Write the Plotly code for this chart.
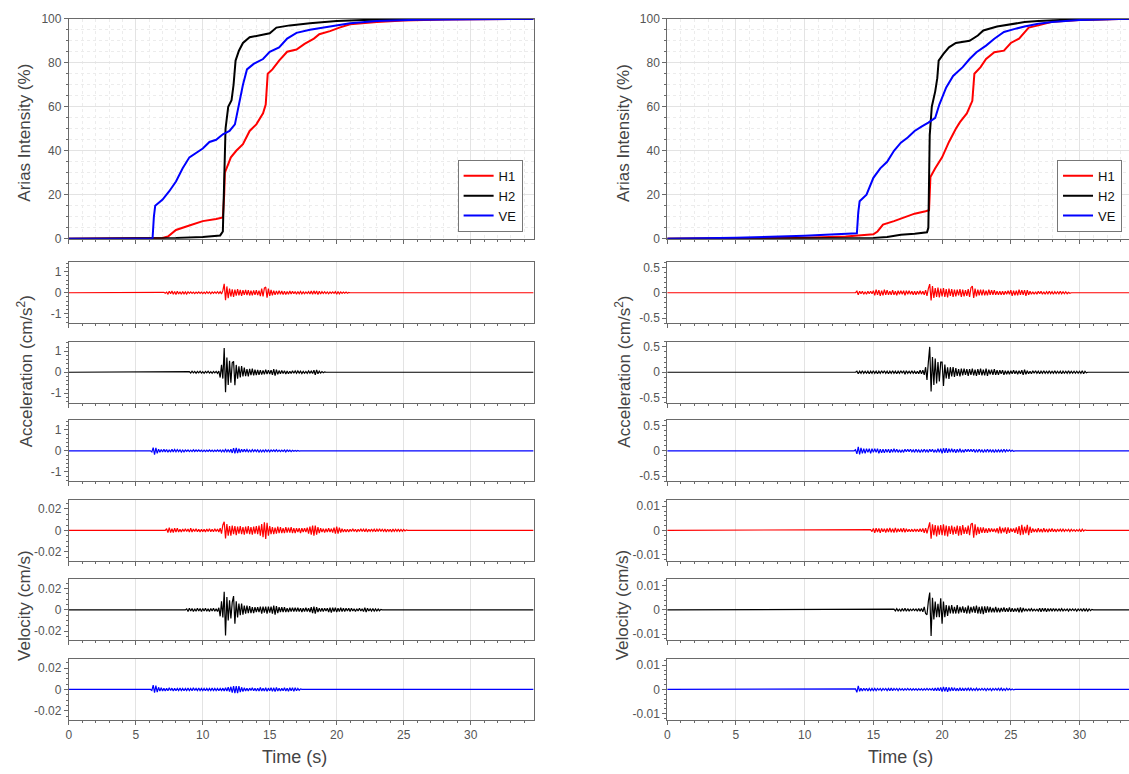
import plotly.graph_objects as go

W, H = 1129, 774

# ---------------- Arias intensity (%) ----------------
ai_l_h1_t = [0, 6.5, 7.0, 7.4, 8.0, 9.0, 10.0, 11.0, 11.5, 11.6, 11.65, 12.1, 12.5, 13.0, 13.5, 14.0, 14.5, 14.7, 14.85,
             15.2, 15.7, 16.3, 17.0, 17.6, 18.3, 18.7, 19.5, 20.2, 21, 23, 25, 28, 34.7]
ai_l_h1 = [0, 0, 0.3, 1, 4, 6, 8, 9, 9.7, 20, 30, 37, 40, 43, 49, 52, 57, 61, 75,
           77, 81, 85, 86, 88.6, 91, 93, 94.4, 96, 97.5, 98.5, 99.2, 99.7, 100]
ai_l_h2_t = [0, 6, 8, 10, 11.3, 11.5, 11.6, 11.7, 11.9, 12.15, 12.3, 12.45, 12.7, 13.0, 13.5, 14.5, 15.0, 15.5, 16.5,
             18, 20, 22, 25, 34.7]
ai_l_h2 = [0, 0, 0.3, 0.8, 1.5, 3.3, 23, 50, 60, 63, 70, 81, 85.5, 89, 91.6, 93, 93.4, 96, 97,
           98, 99, 99.5, 99.8, 100]
ai_l_ve_t = [0, 6.25, 6.35, 6.45, 7.0, 7.5, 8.0, 8.5, 9.0, 9.5, 10.0, 10.5, 11.0, 11.5, 12.0, 12.4, 12.7, 13.0, 13.3,
             13.8, 14.5, 15.0, 15.7, 16.3, 17.0, 18.0, 19.5, 21, 23, 26, 34.7]
ai_l_ve = [0, 0, 10, 15, 17.8, 21.6, 26, 32, 37, 39, 41, 44, 45, 47.5, 49, 52, 61, 70, 77,
           79.5, 81.7, 85, 87, 91, 93.6, 95, 96.5, 98, 99, 99.6, 100]

ai_r_h1_t = [0, 10, 13, 14.5, 15.0, 15.3, 15.7, 16.5, 17.3, 18.0, 18.8, 19.05, 19.15, 19.5, 20.0, 20.5, 21.0, 21.3,
             21.8, 22.2, 22.35, 22.8, 23.2, 23.8, 24.5, 25.0, 25.6, 26.0, 26.3, 27, 28, 30, 33.9]
ai_r_h1 = [0, 0.5, 1, 1.5, 2, 3.3, 6.4, 8, 10, 11.4, 12.5, 13, 28, 32, 37, 44, 50, 53,
           57, 62.7, 75, 78, 81.7, 84.8, 85.5, 89, 91, 94, 96, 97, 98.6, 99.5, 100]
ai_r_h2_t = [0, 15, 16, 17, 18, 18.9, 19.0, 19.1, 19.25, 19.5, 19.65, 19.75, 20.1, 20.5, 21.0, 22.0, 22.6, 23.0,
             24.0, 25.0, 26.0, 27, 29, 33.9]
ai_r_h2 = [0, 0.3, 0.8, 1.8, 2.3, 2.9, 5, 47, 60, 67, 73, 81, 84, 87, 89, 90, 92.4, 94.7,
           96.5, 97.4, 98.5, 99, 99.6, 100]
ai_r_ve_t = [0, 5, 10, 13, 13.8, 13.9, 14.0, 14.5, 15.0, 15.5, 16.0, 16.5, 17.0, 17.5, 18.0, 18.5, 19.0, 19.5,
             19.8, 20.3, 20.8, 21.5, 22.0, 22.5, 23.2, 23.8, 24.5, 25.3, 26.0, 27.0, 28, 30, 33.9]
ai_r_ve = [0, 0.4, 1.3, 2, 2.5, 12, 17, 20, 27.7, 32, 35, 40, 43.7, 46, 49, 51, 52.8, 55,
           61, 68.8, 74, 78, 81.7, 84.8, 87.8, 90.9, 94, 95.4, 96.5, 97.7, 98.5, 99.5, 100]

# ---------------- Records (sampled every SAMPLE_DT s from start time) ----------------
SAMPLE_DT = 0.1

# Left event, acceleration (cm/s^2)
acc_l_h1_t0 = 7.0
acc_l_h1 = [0, .02, -.02, .03, -.06, .07, -.05, .08, -.07, .06,
            -.08, .07, -.06, .05, -.07, .06, -.05, .04, -.06, .05,
            -.03, .04, -.03, .03, -.04, .03, -.03, .04, -.03, .03,
            -.04, .03, -.04, .05, -.03, .04, -.05, .04, -.03, .04,
            -.03, .05, -.04, .05, -.06, .1, .42, -.35, .3, -.26,
            .2, -.18, .16, -.2, .15, -.14, .17, -.12, .13, -.15,
            .12, -.1, .13, -.11, .12, -.13, .1, -.12, .11, -.1,
            .12, -.11, .1, -.16, .2, -.18, .22, .27, -.23, .2,
            -.15, .13, -.12, .1, -.1, .09, -.08, .1, -.07, .08,
            -.09, .07, -.08, .06, -.07, .08, -.06, .07, -.05, .06,
            -.07, .06, -.05, .06, -.05, .04, -.05, .04, -.04, .05,
            -.06, .08, -.07, .09, -.06, .08, -.09, .07, -.06, .05,
            -.04, .05, -.04, .04, -.05, .04, -.03, .04, -.03, .05,
            -.07, .06, -.05, .04, -.03, .03, -.02, .03, -.02, .02, 0]
acc_l_h2_t0 = 9.0
acc_l_h2 = [.03, -.04, .05, -.03, .04, -.05, .04, -.03, .05, -.04,
            .03, -.05, .04, -.03, .05, -.04, .03, -.05, .04, -.03,
            .04, -.05, .06, -.25, .35, -.3, 1.15, -.95, .7, -.6,
            .55, -.5, .45, .52, -.62, .35, -.3, .28, -.25, .3,
            -.2, .22, -.18, .15, -.2, .16, -.14, .17, -.15, .12,
            -.13, .11, -.12, .1, -.11, .09, -.1, .12, -.09, .1,
            -.08, .1, -.12, .15, -.16, .13, -.1, .08, -.07, .08,
            -.06, .07, -.08, .06, -.07, .05, -.06, .07, -.05, .06,
            -.05, .06, -.04, .05, -.06, .04, -.05, .04, -.05, .06,
            -.04, .05, -.06, .1, -.12, .11, -.07, .05, -.04, .03,
            -.02, .02, 0]
acc_l_ve_t0 = 6.2
acc_l_ve = [-.05, .15, -.18, .14, -.12, .08, -.07, .06,
            -.06, .07, -.05, .06, -.07, .05, -.06, .07, -.05, .06,
            -.05, .06, -.04, .05, -.06, .04, -.05, .04, -.03, .04,
            -.04, .03, -.04, .05, -.03, .04, -.03, .04, -.03, .03,
            -.04, .03, -.04, .03, -.03, .04, -.03, .03, -.04, .03,
            -.03, .04, -.03, .04, -.05, .04, -.05, .06, -.05, .06,
            -.07, .08, -.1, .13, -.12, .14, -.11, .1, -.08, .07,
            -.06, .07, -.05, .06, -.05, .04, -.05, .06, -.04, .05,
            -.04, .05, -.06, .04, -.05, .04, -.05, .05, -.04, .04,
            -.05, .04, -.03, .04, -.03, .05, -.04, .03, -.04, .03,
            -.03, .04, -.05, .04, -.03, .03, -.04, .03, -.02, .02,
            -.02, .02, -.01, 0]

# Left event, velocity (10^-3 cm/s)
vel_l_h1_t0 = 7.3
vel_l_h1 = [1.5, -2, 2.5, -2, 1.5, -2, 2,
            -1.5, 2, -1.5, 1, -1.5, 1.2, -1, 1.5, -1, 1.2,
            -1.5, 2, -1.5, 1.2, -1, 1.5, -1.2, 1, -1.5, 1,
            -1.2, 1, -1.5, 1.2, -1, 1.5, -1.2, 1, -1.2, 1.5,
            -1, 1.2, -1.5, 2, -3, 5, 8, -7.5, 6, -5,
            4, -5, 4.5, -3.5, 4, -4.5, 3.5, -3, 4, -3.5,
            3, -4, 3.5, -3, 4, -3.5, 3, -4, 3.5, -3,
            4, -3.5, 4.5, -5, 6, -6.5, 7.5, -8, 7, -5,
            4, -3.5, 3, -3.5, 2.5, -3, 3.5, -2.5, 3, -2.5,
            2, -2.5, 3, -2, 2.5, -2, 3, -2.5, 2, -2.5,
            2, -1.5, 2, -2.5, 2, -1.5, 2, -1.5, 2.5, -3,
            3.5, -4, 4.5, -5, 4.5, -4, 3, -2.5, 2, -1.5,
            1.5, -2, 1.5, -1.5, 2, -1.5, 1.5, -2, 2.5, -3,
            3.5, -3, 2.5, -2, 1.5, -1.5, 1, -1.5, 1, -1.5,
            1, -1, 1.5, -1, 1, -1.5, 1, -1, 1.5, -1,
            1, -1.2, 1.5, -1.5, 1, -1, 1.2, -1, 1, -1.2,
            1, -1, 1.5, -1, 1, -1, 1.2, -1.5, 1, -1,
            1, -1.5, 1.2, -1, 1, -1, 1.2, -1, .8, -.8,
            .8, -.6, .5, 0]
vel_l_h2_t0 = 8.8
vel_l_h2 = [1, -1.5,
            1.5, -1, 1.2, -1.5, 1, -1.2, 1.5, -1, 1.2, -1.5,
            1.2, -1, 1.5, -1.2, 1, -1.5, 1.2, -1, 1.5, -1.2,
            1, -1.5, 2, -6, 8, -7, 17, -24, 12, -10,
            9, -8, 7, 13, -13, 8, -7, 6, -5, 6,
            -4.5, 4, -3.5, 4, -3, 3.5, -3, 2.5, -3, 2.5,
            -2, 2.5, -2, 3, -3.5, 3, -2.5, 3, -3.5, 3,
            -2.5, 3, -3.5, 4, -4.5, 3.5, -3, 2.5, -2, 2.5,
            -2, 2.5, -2, 1.5, -2, 2, -1.5, 2, -1.5, 2,
            -1.5, 2, -1.5, 1.5, -2, 1.5, -1.5, 2, -1.5, 1.5,
            -2, 2.5, -3, 3, -3.5, 2.5, -2, 1.5, -1.5, 1.5,
            -1.5, 1.5, -1, 1.5, -2, 2, -2.5, 2, -1.5, 2,
            -2, 1.5, -1.5, 2, -1.5, 1.5, -1.5, 1.5, -1, 1.5,
            -1.5, 1.5, -1, 1, -1.5, 1, -1, 1.5, -1, 1,
            -1.5, 2, -2, 1.5, -1, 1, -1, 1.2, -1, 1,
            -1, .8, -.8, .5, 0]
vel_l_ve_t0 = 6.2
vel_l_ve = [-1, 4, -3, 3.5, -2.5, 2, -1.5, 1.5,
            -1.5, 1.2, -1.5, 1, -1.2, 1.5, -1, 1.2, -1.5, 1,
            -1.2, 1, -1, 1.2, -1, 1, -1.2, 1, -1, 1.2,
            -1, 1, -1.2, 1.5, -1, 1, -1, 1.2, -1, 1,
            -1, 1, -1.2, 1, -1, 1, -1, 1.2, -1, 1,
            -1, 1, -1.2, 1, -1, 1.2, -1.5, 1.5, -1.5, 2,
            -2, 2.5, -3, 3, -3.5, 3, -3.5, 3, -2.5, 2,
            -2, 1.5, -1.5, 1.2, -1.5, 1.2, -1, 1.5, -1.2, 1,
            -1.5, 1.2, -1.5, 1.8, -1.5, 1.2, -1.5, 1.5, -1.8, 1.2,
            -1.2, 1.5, -1.8, 1.5, -2, 1.8, -1.5, 1.2, -1.5, 1,
            -1.2, 1.5, -1.5, 1.2, -1.8, 1.5, -1.2, 1.5, -1.8, 1.5,
            -1.2, 1, -.8, .5, 0]

# Right event, acceleration (cm/s^2)
acc_r_h1_t0 = 13.8
acc_r_h1 = [.03, -.04,
            .03, -.02, .03, -.03, .02, -.03, .03, -.02, .03, -.02,
            .04, -.05, .06, -.04, .05, -.06, .04, -.05, .06, -.04,
            .05, -.04, .03, -.04, .05, -.04, .03, -.05, .04, -.03,
            .04, -.03, .04, -.05, .04, -.03, .04, -.03, .03, -.04,
            .03, -.04, .03, -.03, .04, -.03, .03, -.04, .05, -.06,
            .08, .17, -.15, .13, -.1, .09, -.08, .1, -.09, .08,
            -.07, .09, -.08, .07, -.09, .08, -.06, .07, -.08, .06,
            -.07, .06, -.05, .07, -.08, .06, -.07, .05, -.06, .07,
            -.08, .1, .13, -.1, .08, -.07, .06, -.05, .06, -.05,
            .06, -.05, .04, -.05, .06, -.04, .05, -.04, .05, -.04,
            .03, -.04, .03, -.04, .03, -.04, .03, -.03, .04, -.03,
            .05, -.06, .04, -.05, .04, -.05, .06, -.04, .05, -.04,
            .05, -.06, .05, -.04, .03, -.03, .02, -.03, .02, -.03,
            .03, -.02, .03, -.03, .02, -.03, .02, -.02, .03, -.02,
            .02, -.03, .02, -.02, .02, -.02, .03, -.02, .02, -.02,
            .02, -.02, .01, -.01, 0]
acc_r_h2_t0 = 13.8
acc_r_h2 = [.02, -.03,
            .02, -.02, .03, -.02, .02, -.02, .02, -.03, .02, -.02,
            .03, -.02, .02, -.03, .02, -.02, .03, -.02, .03, -.02,
            .02, -.03, .02, -.02, .03, -.02, .02, -.03, .02, -.02,
            .03, -.02, .03, -.04, .03, -.02, .02, -.02, .03, -.02,
            .02, -.03, .02, -.03, .04, -.03, .04, -.05, .1, -.15,
            .2, .5, -.38, .3, -.25, .27, -.22, .2, -.18, .2,
            .2, -.27, .15, -.12, .1, -.13, .1, -.08, .1, -.09,
            .08, -.07, .06, -.08, .07, -.06, .07, -.05, .06, -.07,
            .06, -.05, .07, -.06, .05, -.07, .06, -.05, .07, -.06,
            .05, -.06, .07, -.07, .05, -.04, .05, -.05, .06, -.05,
            .04, -.05, .04, -.03, .04, -.05, .03, -.04, .03, -.04,
            .03, -.03, .04, -.03, .03, -.04, .03, -.03, .04, -.05,
            .05, -.04, .03, -.03, .02, -.03, .03, -.02, .03, -.02,
            .02, -.03, .02, -.02, .03, -.02, .02, -.02, .03, -.02,
            .02, -.02, .03, -.02, .02, -.02, .02, -.03, .02, -.02,
            .02, -.02, .03, -.02, .02, -.02, .02, -.02, .02, -.02,
            .02, -.02, .03, -.03, .02, -.01, 0]
acc_r_ve_t0 = 13.7
acc_r_ve = [.02, -.06, .08, -.07,
            .06, -.05, .04, -.05, .04, -.03, .04, -.05, .04, -.03,
            .04, -.03, .04, -.05, .03, -.04, .03, -.04, .03, -.03,
            .03, -.04, .03, -.03, .04, -.03, .03, -.03, .02, -.03,
            .02, -.03, .03, -.02, .03, -.02, .03, -.02, .02, -.03,
            .03, -.02, .02, -.03, .02, -.02, .03, -.02, .02, -.03,
            .03, -.02, .03, -.03, .02, -.03, .04, -.03, .04, -.05,
            .05, -.04, .05, -.04, .04, -.03, .04, -.03, .03, -.04,
            .03, -.03, .04, -.03, .02, -.03, .03, -.02, .03, -.02,
            .03, -.02, .03, -.03, .02, -.02, .03, -.02, .02, -.03,
            .02, -.02, .03, -.02, .02, -.02, .02, -.03, .02, -.02,
            .02, -.02, .02, -.02, .03, -.02, .02, -.01, .02, -.01,
            .01, -.01, 0]

# Right event, velocity (10^-3 cm/s)
vel_r_h1_t0 = 14.8
vel_r_h1 = [.3, -.5,
            .8, -1, .9, -.7, .8, -1, .8, -.6, .7, -.9,
            .8, -.7, 1, -.8, .7, -.9, 1, -.8, .7, -.6,
            .8, -.7, .9, -.8, .7, -.6, .5, -.6, .5, -.6,
            .5, -.4, .5, -.6, .7, -.6, .8, -1, .9, -1.2,
            1.5, 3.3, -3.5, 2.5, -2, 2.2, -2.5, 2, -1.8, 2.2,
            -2, 2.5, -2.2, 2, -2.5, 1.8, -1.5, 2, -1.8, 1.5,
            -1.5, 2, -2.2, 1.8, -2, 2.2, -1.5, 1.2, -1.5, 2,
            -2, 2.5, 3, -3, 2.5, -2, 1.5, -1.5, 1.2, -1,
            1.2, -1, .8, -1, .9, -.7, .8, -.6, .7, -.8,
            .9, -1.2, 1.5, -1.2, 1, -.8, 1.2, -1.5, 1.2, -1,
            .8, -.6, .8, -1, 1.2, -1.5, 1.8, -2, 2.3, -1.8,
            1.5, -1.2, 2.3, -2, 1.5, -1, .8, -.7, .6, -.8,
            .9, -.7, .6, -.8, .9, -.7, .6, -.8, .7, -.6,
            .8, -.6, .5, -.7, .6, -.5, .5, -.4, .5, -.4,
            .4, -.3, .4, -.5, .4, -.3, .3, -.4, .3, -.3,
            .4, -.6, .5, -.3, .2, 0]
vel_r_h2_t0 = 16.5
vel_r_h2 = [.3, -.4, .5, -.4, .3,
            -.5, .6, -.5, .7, -.6, .5, -.4, .3, -.3, .4,
            -.3, .4, -.5, .6, -.5, .6, -.8, 1.2, -1.5, -2,
            3.5, 7.2, -10.8, 5, -4, 3.5, -3, 2.5, -3, 4.8,
            -5.7, 3.5, -3, 2, -2.5, 1.8, -1.5, 2, -1.5, 1.2,
            -1.5, 2, -1.5, 1.2, -1, 1.5, -1.2, 1, -1.5, 1.8,
            -1.5, 1.2, -1, 1.5, -1.2, 1.8, -1.5, 1.2, -1.5, 1.5,
            -1.8, 1.5, -1.2, 1.5, -1, 1.2, -1, .8, -1, 1.2,
            -1, .8, -1, .8, -.7, 1, -.8, .7, -.8, 1,
            -.8, .7, -.8, .6, -.7, .8, -1, 1, -1, .8,
            -.6, .5, -.6, .5, -.4, .5, -.4, .3, -.4, .3,
            -.5, .7, -.8, .7, -.6, .7, -.8, .6, -.5, .6,
            -.5, .6, -.4, .5, -.6, .5, -.4, .5, -.4, .3,
            -.3, .4, -.5, .4, -.3, .4, -.3, .4, -.5, .4,
            -.3, .4, -.5, .6, -.5, .4, -.5, .4, -.3, .2,
            0]
vel_r_ve_t0 = 13.7
vel_r_ve = [.2, -1.2, 1.5, -.8,
            .5, -.6, .5, -.4, .5, -.6, .4, -.5, .4, -.5,
            .4, -.5, .4, -.3, .4, -.5, .4, -.3, .4, -.5,
            .4, -.5, .6, -.5, .4, -.3, .4, -.5, .4, -.3,
            .3, -.4, .3, -.3, .4, -.3, .3, -.4, .3, -.3,
            .3, -.4, .3, -.3, .3, -.4, .3, -.3, .4, -.3,
            .3, -.3, .4, -.5, .6, -.5, .7, -.6, .8, -.9,
            1, -.8, .9, -1, .8, -.7, .8, -.6, .7, -.6,
            .5, -.6, .7, -.5, .4, -.5, .6, -.4, .5, -.4,
            .5, -.4, .3, -.4, .5, -.4, .3, -.3, .4, -.3,
            .4, -.5, .4, -.3, .4, -.5, .4, -.3, .4, -.3,
            .5, -.4, .5, -.4, .3, -.4, .5, -.3, .3, -.2,
            .2, -.2, 0]

# ---------------- axes / labels ----------------
x_max_l, x_max_r = 34.7, 33.6
x_ticks = [0, 5, 10, 15, 20, 25, 30]
ai_ticks = [0, 20, 40, 60, 80, 100]
acc_l_ticks, acc_l_labels = [-1, 0, 1], ["-1", "0", "1"]
acc_r_ticks, acc_r_labels = [-0.5, 0, 0.5], ["-0.5", "0", "0.5"]
vel_l_ticks, vel_l_labels = [-0.02, 0, 0.02], ["-0.02", "0", "0.02"]
vel_r_ticks, vel_r_labels = [-0.01, 0, 0.01], ["-0.01", "0", "0.01"]
components = ["H1", "H2", "VE"]
colors = {"H1": "#ff0000", "H2": "#000000", "VE": "#0000ff"}

FONT = "Arial, Liberation Sans, sans-serif"
GRID = "#e3e3e3"
LINE = "#6a6a6a"
TICKC = "#555555"


def record(t0, vals, tmax, scale=1.0):
    # quiet (zero) record before the first listed sample and after the last one
    t = [0.0, round(t0 - SAMPLE_DT, 3)] + [round(t0 + i * SAMPLE_DT, 3) for i in range(len(vals))] + [tmax]
    y = [0.0, 0.0] + [v * scale for v in vals] + [0.0]
    return t, y


def ydom(top, bottom):
    return [1 - bottom / H, 1 - top / H]


# panel pixel rows (top, bottom)
rows = [(12, 236), (260, 322), (341, 403), (421, 483), (502, 564), (583, 645), (664, 726)]
xdom_l = [66 / W, 532 / W]
xdom_r = [666 / W, 1.0]

fig = go.Figure()
layout = {}

cols = [
    dict(xdom=xdom_l, xmax=x_max_l, legend="legend",
         ai=[(ai_l_h1_t, ai_l_h1), (ai_l_h2_t, ai_l_h2), (ai_l_ve_t, ai_l_ve)],
         acc=[(acc_l_h1_t0, acc_l_h1), (acc_l_h2_t0, acc_l_h2), (acc_l_ve_t0, acc_l_ve)],
         vel=[(vel_l_h1_t0, vel_l_h1), (vel_l_h2_t0, vel_l_h2), (vel_l_ve_t0, vel_l_ve)],
         acc_rng=1.45, acc_t=(acc_l_ticks, acc_l_labels), acc_minor=0.2,
         vel_rng=0.0285, vel_t=(vel_l_ticks, vel_l_labels), vel_minor=0.005, mirror=True),
    dict(xdom=xdom_r, xmax=x_max_r, legend="legend2",
         ai=[(ai_r_h1_t, ai_r_h1), (ai_r_h2_t, ai_r_h2), (ai_r_ve_t, ai_r_ve)],
         acc=[(acc_r_h1_t0, acc_r_h1), (acc_r_h2_t0, acc_r_h2), (acc_r_ve_t0, acc_r_ve)],
         vel=[(vel_r_h1_t0, vel_r_h1), (vel_r_h2_t0, vel_r_h2), (vel_r_ve_t0, vel_r_ve)],
         acc_rng=0.6, acc_t=(acc_r_ticks, acc_r_labels), acc_minor=0.1,
         vel_rng=0.0126, vel_t=(vel_r_ticks, vel_r_labels), vel_minor=0.002, mirror=False),
]

k = 0
for ci, c in enumerate(cols):
    for ri, (top, bot) in enumerate(rows):
        k += 1
        xa = "x" if k == 1 else f"x{k}"
        ya = "y" if k == 1 else f"y{k}"
        xkey = "xaxis" if k == 1 else f"xaxis{k}"
        ykey = "yaxis" if k == 1 else f"yaxis{k}"
        is_top = ri == 0
        is_bottom = ri == len(rows) - 1
        layout[xkey] = dict(
            domain=c["xdom"], range=[0, c["xmax"]], anchor=ya,
            showline=True, linecolor=LINE, linewidth=1, mirror=True,
            ticks="outside", ticklen=4, tickcolor=LINE, tickvals=x_ticks,
            showticklabels=is_bottom, tickfont=dict(size=12, color=TICKC, family=FONT),
            showgrid=True, gridcolor=GRID, gridwidth=1, zeroline=False,
            minor=dict(dtick=1, tick0=0, ticks="outside", ticklen=2, tickcolor=LINE,
                       showgrid=is_top, gridcolor="#ececec", griddash="dot"),
        )
        if is_top:
            layout[ykey] = dict(
                domain=ydom(top, bot), range=[0, 100], anchor=xa,
                showline=True, linecolor=LINE, linewidth=1, mirror=c["mirror"],
                ticks="outside", ticklen=4, tickcolor=LINE, tickvals=ai_ticks,
                tickfont=dict(size=12, color=TICKC, family=FONT),
                showgrid=True, gridcolor=GRID, zeroline=False,
                minor=dict(dtick=5, tick0=0, ticks="outside", ticklen=2, tickcolor=LINE,
                           showgrid=True, gridcolor="#ececec", griddash="dot"),
            )
            for comp, (tt, vv) in zip(components, c["ai"]):
                fig.add_trace(go.Scatter(x=tt, y=vv, mode="lines", name=comp, xaxis=xa, yaxis=ya,
                                         line=dict(color=colors[comp], width=2),
                                         legend=c["legend"], showlegend=True))
        else:
            is_acc = ri <= 3
            rng = c["acc_rng"] if is_acc else c["vel_rng"]
            tv, tl = c["acc_t"] if is_acc else c["vel_t"]
            mdt = c["acc_minor"] if is_acc else c["vel_minor"]
            layout[ykey] = dict(
                domain=ydom(top, bot), range=[-rng, rng], anchor=xa,
                showline=True, linecolor=LINE, linewidth=1, mirror=c["mirror"],
                ticks="outside", ticklen=4, tickcolor=LINE, tickvals=tv, ticktext=tl,
                tickfont=dict(size=12, color=TICKC, family=FONT),
                showgrid=False, zeroline=False,
                minor=dict(dtick=mdt, tick0=0, ticks="outside", ticklen=2, tickcolor=LINE, showgrid=False),
            )
            comp_i = (ri - 1) % 3
            comp = components[comp_i]
            if is_acc:
                t0, vals = c["acc"][comp_i]
                tt, yy = record(t0, vals, c["xmax"])
            else:
                t0, vals = c["vel"][comp_i]
                tt, yy = record(t0, vals, c["xmax"], scale=1e-3)
            fig.add_trace(go.Scatter(x=tt, y=yy, mode="lines", xaxis=xa, yaxis=ya,
                                     line=dict(color=colors[comp], width=1.2), showlegend=False))

legend_style = dict(bgcolor="white", bordercolor="#777777", borderwidth=1,
                    font=dict(size=13, color="#111111", family=FONT),
                    xanchor="right", yanchor="bottom", y=1 - 229 / H,
                    itemwidth=30, tracegroupgap=0)
layout["legend"] = dict(legend_style, x=521 / W)
layout["legend2"] = dict(legend_style, x=1122 / W)

title_font = dict(size=17, color="#444444", family=FONT)
annotations = []
for xpx in (22, 622):
    for txt, ypx in (("Arias Intensity (%)", 128), ("Acceleration (cm/s<sup>2</sup>)", 371),
                     ("Velocity (cm/s)", 609)):
        annotations.append(dict(text=txt, x=xpx / W, y=1 - ypx / H, xref="paper", yref="paper",
                                xanchor="center", yanchor="middle",
                                textangle=-90, showarrow=False, font=title_font))
for xpx in (292, 900):
    annotations.append(dict(text="Time (s)", x=xpx / W, y=1 - 764 / H, xref="paper", yref="paper",
                            xanchor="center", yanchor="middle",
                            showarrow=False, font=dict(size=18, color="#444444", family=FONT)))

fig.update_layout(
    width=W, height=H, margin=dict(l=0, r=0, t=0, b=0),
    paper_bgcolor="white", plot_bgcolor="white",
    font=dict(family=FONT), annotations=annotations, **layout,
)

fig.write_html("out.html", config={"displayModeBar": False},
               post_script="document.body.style.margin='0px';document.body.style.overflow='hidden';")
